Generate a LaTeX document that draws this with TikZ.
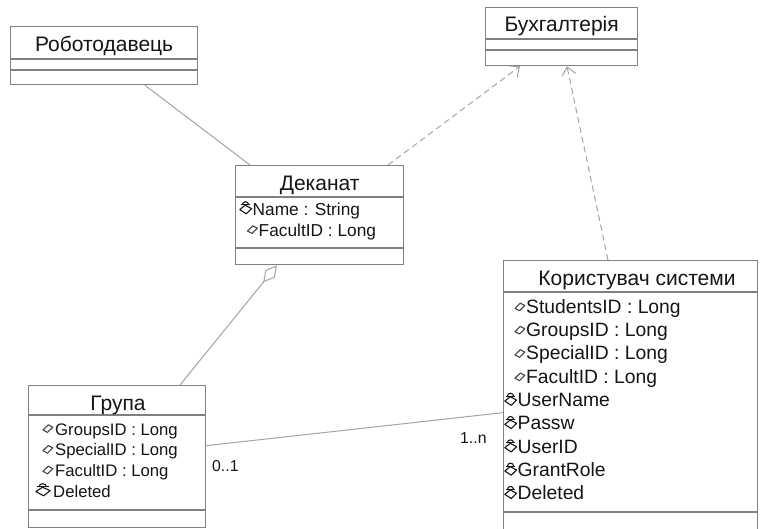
\documentclass[tikz,border=0pt]{standalone}
\usepackage{fontspec}
\setmainfont{Liberation Sans}
\usetikzlibrary{arrows.meta}
\definecolor{boxline}{HTML}{808080}
\definecolor{conline}{HTML}{A4A4A4}
\definecolor{ink}{HTML}{151515}

\tikzset{
  classbox/.style={draw=boxline, line width=1.3pt, fill=white, inner sep=0pt, anchor=north west},
  sepline/.style={draw=boxline, line width=1.2pt},
  ctitle/.style={anchor=base, inner sep=0pt, text=ink, font=\fontsize{21}{24}\selectfont},
  attrA/.style={anchor=base west, inner sep=0pt, text=ink, font=\fontsize{17.3}{20}\selectfont},
  attrB/.style={anchor=base west, inner sep=0pt, text=ink, font=\fontsize{19.3}{22}\selectfont},
  attrC/.style={anchor=base west, inner sep=0pt, text=ink, font=\fontsize{16.7}{20}\selectfont},
  mult/.style={anchor=base west, inner sep=0pt, text=ink, font=\fontsize{15.8}{18}\selectfont},
  assoc/.style={draw=conline, line width=1pt},
  depend/.style={draw=conline, line width=1pt, dash pattern=on 6pt off 4pt,
    -{Straight Barb[length=8pt, width=14pt]}},
  aggreg/.style={draw=conline, line width=1pt, -{Diamond[open, length=22pt, width=12pt]}},
  % public attribute marker: a tilted open rhombus
  pubicon/.pic={
    \draw[draw=ink!80, line width=1.1pt, line join=round]
      (0.5,-5) -- (5.8,-10.2) -- (10.3,-7.8) -- (5,-2.6) -- cycle;
  },
  % private attribute marker: a small dome over a rhombus
  privicon/.pic={
    \draw[draw=ink, line width=1.1pt, line join=round]
      (3.4,-10.2) arc (180:360:3.1);
    \draw[draw=ink, line width=1.1pt] (1.6,-10.2) -- (11.4,-10.2);
    \draw[draw=ink, line width=1.1pt, line join=round]
      (0.8,-5.4) -- (6.2,-9.8) -- (12.6,-6.4) -- (7.2,-1.2) -- cycle;
  }
}

\begin{document}
\begin{tikzpicture}[x=1pt, y=-1pt]
\clip (0,0) rectangle (760,528);
\fill[white] (0,0) rectangle (760,528);

% ---- class: Роботодавець ----
\node[classbox, minimum width=187pt, minimum height=58pt] (rob) at (10,26) {};
\draw[sepline] (rob.west |- 0,59) -- (rob.east |- 0,59);
\draw[sepline] (rob.west |- 0,70) -- (rob.east |- 0,70);
\node[ctitle] (robt) at (rob.north |- 0,51.7) {Роботодавець};

% ---- class: Бухгалтерія ----
\node[classbox, minimum width=152pt, minimum height=58pt] (buh) at (485,7) {};
\draw[sepline] (buh.west |- 0,39) -- (buh.east |- 0,39);
\draw[sepline] (buh.west |- 0,50) -- (buh.east |- 0,50);
\node[ctitle] (buht) at (buh.north |- 0,31.7) {Бухгалтерія};

% ---- class: Деканат ----
\node[classbox, minimum width=168pt, minimum height=99pt] (dek) at (235,165) {};
\draw[sepline] (dek.west |- 0,197) -- (dek.east |- 0,197);
\draw[sepline] (dek.west |- 0,248) -- (dek.east |- 0,248);
\node[ctitle] (dekt) at (dek.north |- 0,190) {Деканат};
\pic at (239,215) {privicon};
\node[attrA] (dek1) at (252.5,215) {Name : String};
\pic at (247,236) {pubicon};
\node[attrA] (dek2) at (258.5,236) {FacultID : Long};

% ---- class: Користувач системи ----
\node[classbox, minimum width=254pt, minimum height=280pt] (kor) at (503,260) {};
\draw[sepline] (kor.west |- 0,292) -- (kor.east |- 0,292);
\draw[sepline] (kor.west |- 0,512) -- (kor.east |- 0,512);
\node[ctitle] (kort) at (637,285) {Користувач системи};
\pic at (514.5,313.3) {pubicon};
\node[attrB] (kor1) at (526,313.3) {StudentsID : Long};
\pic at (514.5,336.6) {pubicon};
\node[attrB] (kor2) at (526,336.6) {GroupsID : Long};
\pic at (514.5,359.9) {pubicon};
\node[attrB] (kor3) at (526,359.9) {SpecialID : Long};
\pic at (514.5,383.2) {pubicon};
\node[attrB] (kor4) at (526,383.2) {FacultID : Long};
\pic at (504,406.5) {privicon};
\node[attrB] (kor5) at (517.5,406.5) {UserName};
\pic at (504,429.8) {privicon};
\node[attrB] (kor6) at (517.5,429.8) {Passw};
\pic at (504,453.1) {privicon};
\node[attrB] (kor7) at (517.5,453.1) {UserID};
\pic at (504,476.4) {privicon};
\node[attrB] (kor8) at (517.5,476.4) {GrantRole};
\pic at (504,499.7) {privicon};
\node[attrB] (kor9) at (517.5,499.7) {Deleted};

% ---- class: Група ----
\node[classbox, minimum width=177pt, minimum height=142pt] (grp) at (28,385) {};
\draw[sepline] (grp.west |- 0,415) -- (grp.east |- 0,415);
\draw[sepline] (grp.west |- 0,510) -- (grp.east |- 0,510);
\node[ctitle] (grpt) at (118,410) {Група};
\pic at (42.5,435) {pubicon};
\node[attrC] (grp1) at (55,435) {GroupsID : Long};
\pic at (42.5,455.7) {pubicon};
\node[attrC] (grp2) at (55,455.7) {SpecialID : Long};
\pic at (42.5,476.4) {pubicon};
\node[attrC] (grp3) at (55,476.4) {FacultID : Long};
\pic[xscale=1.2] at (35,497) {privicon};
\node[attrC] (grp4) at (53,497) {Deleted};

% ---- connectors ----
\draw[assoc] ([xshift=135pt]rob.south west) -- ([xshift=15pt]dek.north west);
\draw[depend] ([xshift=153pt]dek.north west) -- ([xshift=35pt]buh.south west);
\draw[depend] ([xshift=105pt]kor.north west) -- ([xshift=82pt]buh.south west);
\draw[aggreg] ([xshift=152pt]grp.north west) -- ([xshift=42pt]dek.south west);
\draw[assoc] ([yshift=11pt]grp.east) -- ([yshift=-12pt]kor.west);

% ---- multiplicities ----
\node[mult] (m01) at (212,471.7) {0..1};
\node[mult] (m1n) at (460,443) {1..n};
\end{tikzpicture}
\end{document}
